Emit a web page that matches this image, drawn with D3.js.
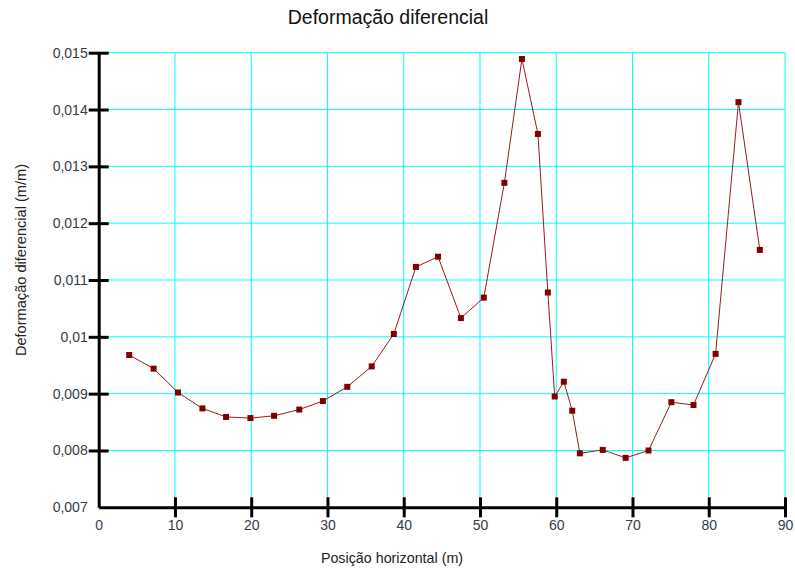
<!DOCTYPE html>
<html>
<head>
<meta charset="utf-8">
<script src="https://cdn.jsdelivr.net/npm/d3@7"></script>
<style>
  body { margin: 0; background: #fff; }
  svg { display: block; font-family: "Liberation Sans", Arial, sans-serif; }
</style>
</head>
<body>
<div id="chart"></div>
<script>
// Posição horizontal (m)
const positions = [4.0, 7.2, 10.4, 13.6, 16.7, 19.9, 23.0, 26.3, 29.4, 32.6, 35.8, 38.7,
    41.6, 44.5, 47.5, 50.5, 53.2, 55.5, 57.6, 58.9, 59.8, 61.0, 62.1, 63.1,
    66.1, 69.1, 72.1, 75.1, 78.0, 80.9, 83.9, 86.7];
// Deformação diferencial (m/m)
const strains = [0.00968, 0.00944, 0.00902, 0.00874, 0.00859, 0.00857, 0.00861, 0.00872,
    0.00887, 0.00912, 0.00948, 0.01005, 0.01123, 0.01141, 0.01033, 0.01069,
    0.01271, 0.01489, 0.01357, 0.01078, 0.00895, 0.00921, 0.00870, 0.00795,
    0.00801, 0.00787, 0.00800, 0.00885, 0.00880, 0.00970, 0.01413, 0.01153];
const xTicks = [0, 10, 20, 30, 40, 50, 60, 70, 80, 90];
const yTicks = [0.007, 0.008, 0.009, 0.010, 0.011, 0.012, 0.013, 0.014, 0.015];

const width = 795, height = 572;
const margin = {top: 52.7, right: 10, bottom: 64.7, left: 98.7};

const x = d3.scaleLinear().domain([0, 90]).range([margin.left, 785]);
const y = d3.scaleLinear().domain([0.007, 0.015]).range([height - margin.bottom, margin.top]);

const fmt = d => d3.format('.3~f')(d).replace('.', ',');

const svg = d3.select('#chart')
    .append('svg')
    .attr('width', width)
    .attr('height', height);

// grid
svg.append('g')
    .selectAll('line')
    .data(xTicks.slice(1))
    .join('line')
    .attr('x1', d => x(d)).attr('x2', d => x(d))
    .attr('y1', y(0.015)).attr('y2', y(0.007))
    .attr('stroke', '#00ffff')
    .attr('stroke-width', 1);

svg.append('g')
    .selectAll('line')
    .data(yTicks.slice(1))
    .join('line')
    .attr('x1', x(0)).attr('x2', x(90))
    .attr('y1', d => y(d)).attr('y2', d => y(d))
    .attr('stroke', '#00ffff')
    .attr('stroke-width', 1);

// axes
const xAxis = g => g
    .attr('transform', `translate(0,${y(0.007)})`)
    .call(d3.axisBottom(x).tickValues(xTicks).tickSize(0).tickPadding(13).tickFormat(d3.format('d')))
    .call(g => g.select('.domain').attr('stroke', '#000').attr('stroke-width', 3))
    .call(g => g.selectAll('.tick').filter(d => d > 0).append('line')
        .attr('y1', -10).attr('y2', 10)
        .attr('stroke', '#000').attr('stroke-width', 3))
    .call(g => g.selectAll('text')
        .attr('fill', '#333c48')
        .attr('font-size', 14)
        .attr('font-family', '"Liberation Sans", Arial, sans-serif'));

const yAxis = g => g
    .attr('transform', `translate(${x(0)},0)`)
    .call(d3.axisLeft(y).tickValues(yTicks).tickSize(0).tickPadding(11).tickFormat(fmt))
    .call(g => g.select('.domain').attr('stroke', '#000').attr('stroke-width', 3))
    .call(g => g.selectAll('.tick').filter(d => d > 0.007).append('line')
        .attr('x1', -10).attr('x2', 10)
        .attr('stroke', '#000').attr('stroke-width', 3))
    .call(g => g.selectAll('text')
        .attr('fill', '#333c48')
        .attr('font-size', 14)
        .attr('font-family', '"Liberation Sans", Arial, sans-serif'));

svg.append('g').call(xAxis);
svg.append('g').call(yAxis);

// series
const pts = positions.map((p, i) => [p, strains[i]]);

svg.append('path')
    .datum(pts)
    .attr('fill', 'none')
    .attr('stroke', '#9a1a1a')
    .attr('stroke-width', 1)
    .attr('d', d3.line().x(d => x(d[0])).y(d => y(d[1])));

svg.append('g')
    .selectAll('rect')
    .data(pts)
    .join('rect')
    .attr('x', d => x(d[0]) - 3)
    .attr('y', d => y(d[1]) - 3)
    .attr('width', 6)
    .attr('height', 6)
    .attr('fill', '#800000');

// titles
svg.append('text')
    .attr('x', 388).attr('y', 24)
    .attr('text-anchor', 'middle')
    .attr('font-size', 19.5)
    .attr('fill', '#111')
    .text('Deformação diferencial');

svg.append('text')
    .attr('x', 392).attr('y', 563)
    .attr('text-anchor', 'middle')
    .attr('font-size', 14.3)
    .attr('fill', '#222')
    .text('Posição horizontal (m)');

svg.append('text')
    .attr('transform', 'translate(26,260) rotate(-90)')
    .attr('text-anchor', 'middle')
    .attr('font-size', 14.6)
    .attr('fill', '#222')
    .text('Deformação diferencial (m/m)');
</script>
</body>
</html>
